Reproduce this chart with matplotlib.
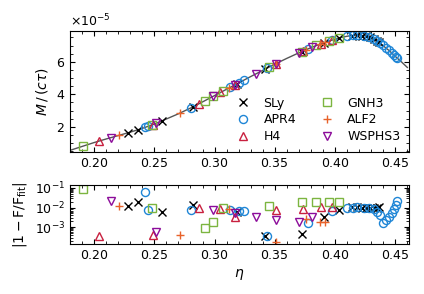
import matplotlib
matplotlib.use('Agg')
import matplotlib.pyplot as plt
from matplotlib.ticker import AutoMinorLocator, LogLocator, NullFormatter

# fit curve (units of 1e-5)
fit_eta = [0.18, 0.19, 0.20, 0.21, 0.22, 0.23, 0.24, 0.25, 0.26, 0.27, 0.28,
           0.29, 0.30, 0.31, 0.32, 0.33, 0.34, 0.35, 0.36, 0.37, 0.38, 0.39,
           0.40, 0.405, 0.41, 0.415, 0.42, 0.425, 0.43, 0.435, 0.44, 0.445,
           0.45, 0.455, 0.46]
fit_m = [0.55, 0.79, 1.03, 1.25, 1.46, 1.67, 1.90, 2.17, 2.48, 2.80, 3.15,
         3.53, 3.92, 4.31, 4.70, 5.09, 5.47, 5.85, 6.21, 6.55, 6.87, 7.15,
         7.39, 7.49, 7.57, 7.62, 7.63, 7.59, 7.48, 7.27, 6.98, 6.68,
         6.33, 6.00, 5.65]

# SLy
sly_eta = [0.2285, 0.2368, 0.2562, 0.282, 0.3185, 0.342, 0.3725, 0.3905, 0.4029,
           0.414, 0.4185, 0.4225, 0.426, 0.429, 0.432, 0.4345, 0.4365]
sly_m = [1.64, 1.82, 2.36, 3.22, 4.64, 5.55, 6.63, 7.16, 7.45,
         7.61, 7.63, 7.61, 7.57, 7.50, 7.41, 7.29, 7.20]
sly_err = [0.0126, 0.020, 0.0059, 0.0136, 0.0059, 3.7e-4, 4.3e-4, 0.0033, 0.0071,
           0.0102, 0.0105, 0.0100, 0.0098, 0.0100, 0.0095, 0.0100, 0.0105]

# APR4
apr4_eta = [0.2424, 0.245, 0.2803, 0.313, 0.3199, 0.3246, 0.3434, 0.3772, 0.3974,
            0.4101, 0.415, 0.4184, 0.424, 0.4285, 0.4323, 0.435, 0.4375, 0.4395,
            0.442, 0.4445, 0.447, 0.4488, 0.4502, 0.4516]
apr4_m = [1.96, 2.03, 3.16, 4.43, 4.70, 4.89, 5.60, 6.78, 7.34,
          7.56, 7.62, 7.63, 7.60, 7.51, 7.38, 7.27, 7.13, 7.01,
          6.86, 6.71, 6.54, 6.41, 6.32, 6.22]
apr4_err = [0.063, 0.0071, 0.0079, 0.0077, 0.0063, 0.0063, 3.7e-4, 0.0017, 0.0063,
            0.0093, 0.0100, 0.0102, 0.0097, 0.0095, 0.0088, 0.0059, 0.0040, 0.0016,
            0.0022, 0.0032, 0.0050, 0.0085, 0.0135, 0.021]

# H4
h4_eta = [0.2044, 0.2487, 0.2875, 0.3047, 0.3171, 0.3512, 0.3738, 0.3883, 0.3974]
h4_m = [1.13, 2.13, 3.43, 4.11, 4.58, 5.89, 6.68, 7.11, 7.34]
h4_err = [3.7e-4, 4.0e-4, 0.0097, 0.0086, 0.0033, 0.0071, 0.0086, 0.0102, 0.0102]

# GNH3
gnh3_eta = [0.1906, 0.248, 0.2922, 0.2991, 0.3069, 0.3453, 0.3725, 0.3844, 0.3946, 0.4029]
gnh3_m = [0.80, 2.11, 3.61, 3.89, 4.19, 5.67, 6.63, 7.01, 7.27, 7.45]
gnh3_err = [0.092, 0.0093, 9.3e-4, 0.00185, 0.010, 0.0126, 0.0185, 0.0185, 0.0185, 0.0185]

# ALF2
alf2_eta = [0.221, 0.2714, 0.3124, 0.3512, 0.3761, 0.3871, 0.3919]
alf2_m = [1.48, 2.85, 4.40, 5.89, 6.75, 7.08, 7.21]
alf2_err = [0.0126, 4.0e-4, 0.0086, 1.85e-4, 0.0025, 0.00185, 0.00185]

# WSPHS3
wsphs3_eta = [0.2139, 0.2515, 0.2986, 0.3171, 0.3346, 0.3512, 0.3697, 0.3808]
wsphs3_m = [1.33, 2.21, 3.87, 4.58, 5.27, 5.89, 6.53, 6.90]
wsphs3_err = [0.022, 5.4e-4, 0.0079, 0.0054, 0.0033, 0.0022, 0.00185, 0.0033]

series = [
    ('SLy', sly_eta, sly_m, sly_err, 'x', 'black'),
    ('APR4', apr4_eta, apr4_m, apr4_err, 'o', '#1f86d6'),
    ('H4', h4_eta, h4_m, h4_err, '^', '#c8203f'),
    ('GNH3', gnh3_eta, gnh3_m, gnh3_err, 's', '#7cb540'),
    ('ALF2', alf2_eta, alf2_m, alf2_err, '+', '#e8622a'),
    ('WSPHS3', wsphs3_eta, wsphs3_m, wsphs3_err, 'v', '#8c0c9a'),
]

plt.rcParams['font.size'] = 9
plt.rcParams['mathtext.default'] = 'it'
plt.rcParams['axes.formatter.use_mathtext'] = True

fig = plt.figure(figsize=(4.24, 2.94), dpi=100)
ax1 = fig.add_axes([0.165, 0.483, 0.800, 0.412])
ax2 = fig.add_axes([0.165, 0.170, 0.800, 0.201])

ax1.plot(fit_eta, [v * 1e-5 for v in fit_m], color='#555555', lw=1.0, zorder=1)

for name, eta, m, err, mk, col in series:
    if mk in ('x', '+'):
        kw = dict(color=col, markeredgewidth=1.0)
    else:
        kw = dict(markerfacecolor='none', markeredgecolor=col, markeredgewidth=1.0)
    ax1.plot(eta, [v * 1e-5 for v in m], ls='none', marker=mk, markersize=5.8,
             label=name, zorder=2, **kw)
    ax2.plot(eta, err, ls='none', marker=mk, markersize=5.8, zorder=2, **kw)

ax1.set_xlim(0.18, 0.4615)
ax2.set_xlim(0.18, 0.4615)
ax1.set_ylim(0.45e-5, 7.9e-5)
ax1.set_ylabel(r'$M\,/\,(c\tau)$', fontsize=10)

ax2.set_yscale('log')
ax2.set_ylim(1.4e-4, 0.14)
ax2.yaxis.set_major_locator(LogLocator(base=10, numticks=10))
ax2.yaxis.set_minor_locator(LogLocator(base=10, subs=range(2, 10), numticks=10))
ax2.yaxis.set_minor_formatter(NullFormatter())
ax2.set_xlabel(r'$\eta$', fontsize=10)
ax2.set_ylabel(r'$|1-\mathrm{F/F_{fit}}|$', fontsize=10)

for ax in (ax1, ax2):
    ax.set_xticks([0.20, 0.25, 0.30, 0.35, 0.40, 0.45])
    ax.xaxis.set_minor_locator(AutoMinorLocator(5))
    ax.tick_params(which='both', direction='in', top=True, right=True, labelsize=9)
    ax.tick_params(which='major', length=3.5)
    ax.tick_params(which='minor', length=2)
ax1.yaxis.set_minor_locator(AutoMinorLocator(4))

ax1.legend(loc='lower right', ncol=2, frameon=False, fontsize=9,
           handletextpad=0.6, columnspacing=1.5, labelspacing=0.3,
           borderaxespad=0.3)

plt.savefig('out.png', dpi=100)
